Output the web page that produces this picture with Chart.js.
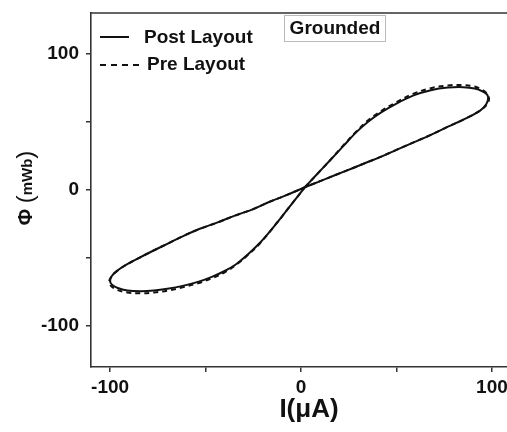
<!DOCTYPE html>
<html>
<head>
<meta charset="utf-8">
<script src="https://cdn.jsdelivr.net/npm/chart.js@4"></script>
<style>
  html, body { margin: 0; padding: 0; background: #fff; overflow: hidden; }
  #wrap { width: 520px; height: 432px; }
</style>
</head>
<body>
<div id="wrap"><canvas id="chart"></canvas></div>
<script>
// --- data: current I (uA) vs flux Phi (mWb) ---
const postI = [2, 8, 15, 22, 29, 35, 42, 50, 59, 68, 77, 85, 91, 95, 97.5, 98,
  97, 94, 87, 77, 68, 59, 50, 42, 34, 27, 18, 10, 2, -8, -17, -25, -35, -44, -53, -62, -70, -78, -85, -91, -96, -99, -100,
  -99, -96, -91, -84, -77, -70, -62, -54, -47, -40, -34, -28, -22, -16, -10, -5, 2];
const postPhi = [2, 11, 21.5, 32, 42.5, 50, 57, 63.5, 69.5, 73.3, 75.2, 75.5, 74.5, 72.5, 70, 67,
  63, 58.5, 53, 46.5, 40.5, 35, 29.5, 24.5, 20, 16, 11, 6.5, 2, -4, -9, -14, -19, -24, -28.5, -34, -39.5, -45, -50, -54.5, -59, -63, -67,
  -69.5, -72, -73.8, -74.3, -73.8, -72.5, -70.4, -67.5, -64, -59.5, -54.5, -47.5, -39.5, -30, -19.5, -10.5, 2];

const preI = [2, 8, 15, 22, 29, 35, 42, 50, 59, 68, 77, 85, 91, 95, 97.5, 98.5,
  97.5, 94, 87, 77, 68, 59, 50, 42, 34, 27, 18, 10, 2, -8, -17, -25, -35, -44, -53, -62, -70, -78, -85, -91, -96, -99, -100.5,
  -99.5, -96, -91, -84, -77, -70, -62, -54, -47, -40, -34, -28, -22, -16, -10, -5, 2];
const prePhi = [2, 11, 21.5, 32.5, 43, 51, 58, 64.5, 70.8, 74.8, 76.8, 77, 76, 73.5, 70.5, 67,
  63, 58.5, 53, 46.5, 40.5, 35, 29.5, 24.5, 20, 16, 11, 6.5, 2, -4, -9, -14, -19, -24, -28.5, -34, -39.5, -45, -50, -54.5, -59, -63, -67.5,
  -70.5, -73.5, -75.3, -75.8, -75.3, -74, -71.5, -68.5, -65, -60.5, -55, -48, -40, -30, -19.5, -10.5, 2];

const xTicks = [-100, -50, 0, 50, 100];
const yTicks = [-100, -50, 0, 50, 100];
const seriesLabels = ['Post Layout', 'Pre Layout'];
const boxText = 'Grounded';

const FONT = '"Liberation Sans", Arial, sans-serif';
const INK = '#111';

const toPoints = (xs, ys) => xs.map((x, i) => ({ x: x, y: ys[i] }));

// frame, legend, "Grounded" box and axis titles
const decorations = {
  id: 'decorations',
  afterDraw(chart) {
    const ctx = chart.ctx;
    const a = chart.chartArea;
    ctx.save();

    // top / right frame line
    ctx.strokeStyle = '#333';
    ctx.lineWidth = 1.6;
    ctx.beginPath();
    ctx.moveTo(a.left, a.top);
    ctx.lineTo(a.right, a.top);
    ctx.lineTo(a.right, a.bottom);
    ctx.stroke();

    // legend
    ctx.fillStyle = INK;
    ctx.textBaseline = 'middle';
    ctx.font = 'bold 19px ' + FONT;
    const ds = chart.data.datasets;
    ctx.lineWidth = 2;
    ctx.strokeStyle = INK;
    ctx.setLineDash([]);
    ctx.beginPath();
    ctx.moveTo(100, 37);
    ctx.lineTo(129, 37);
    ctx.stroke();
    ctx.fillText(ds[0].label, 144, 38);
    ctx.setLineDash([6, 5]);
    ctx.beginPath();
    ctx.moveTo(100, 65);
    ctx.lineTo(143, 65);
    ctx.stroke();
    ctx.setLineDash([]);
    ctx.fillText(ds[1].label, 147, 65);

    // Grounded box
    ctx.strokeStyle = '#bbb';
    ctx.lineWidth = 1;
    ctx.strokeRect(284.5, 15.5, 101, 26);
    ctx.fillStyle = INK;
    ctx.textAlign = 'center';
    ctx.fillText(boxText, 335, 29);

    // x title
    ctx.font = 'bold 26px ' + FONT;
    ctx.textBaseline = 'alphabetic';
    ctx.fillText('I(\u03bcA)', 309, 417);

    // y title with subscript unit
    ctx.translate(32, 188);
    ctx.rotate(-Math.PI / 2);
    ctx.textAlign = 'left';
    const parts = [
      { t: '\u03a6 ', f: 'bold 20px ' + FONT, dy: 0 },
      { t: '(', f: '24px ' + FONT, dy: 1 },
      { t: 'mWb', f: 'bold 15px ' + FONT, dy: 0 },
      { t: ')', f: '24px ' + FONT, dy: 1 }
    ];
    let total = 0;
    parts.forEach(p => { ctx.font = p.f; total += ctx.measureText(p.t).width; });
    let x = -total / 2;
    parts.forEach(p => {
      ctx.font = p.f;
      ctx.fillText(p.t, x, p.dy);
      x += ctx.measureText(p.t).width;
    });
    ctx.restore();
  }
};

const tickFont = { family: FONT, size: 19, weight: 'bold' };

new Chart(document.getElementById('chart'), {
  type: 'scatter',
  data: {
    datasets: [
      {
        label: seriesLabels[0],
        data: toPoints(postI, postPhi),
        showLine: true,
        borderColor: INK,
        borderWidth: 2,
        pointRadius: 0,
        tension: 0.35,
        fill: false
      },
      {
        label: seriesLabels[1],
        data: toPoints(preI, prePhi),
        showLine: true,
        borderColor: INK,
        borderWidth: 2,
        borderDash: [5, 4],
        pointRadius: 0,
        tension: 0.35,
        fill: false
      }
    ]
  },
  options: {
    responsive: true,
    maintainAspectRatio: false,
    animation: false,
    layout: { padding: { left: 0, top: 13, right: 9, bottom: 0 } },
    plugins: {
      legend: { display: false },
      tooltip: { enabled: false }
    },
    scales: {
      x: {
        type: 'linear',
        min: -110,
        max: 110,
        afterBuildTicks: s => { s.ticks = xTicks.map(v => ({ value: v })); },
        afterFit: s => { s.height = 65; s.paddingLeft = 0; s.paddingRight = 0; },
        border: { display: true, color: '#333', width: 1.6 },
        grid: { drawOnChartArea: false, drawTicks: true, tickLength: 5, color: '#333', lineWidth: 1.5 },
        ticks: {
          color: INK,
          font: tickFont,
          padding: 4,
          maxRotation: 0,
          callback: v => (v % 100 === 0 ? v : '')
        }
      },
      y: {
        type: 'linear',
        min: -130,
        max: 130,
        afterBuildTicks: s => { s.ticks = yTicks.map(v => ({ value: v })); },
        afterFit: s => { s.width = 91; s.paddingTop = 0; s.paddingBottom = 0; },
        border: { display: true, color: '#333', width: 1.6 },
        grid: { drawOnChartArea: false, drawTicks: true, tickLength: 5, color: '#333', lineWidth: 1.5 },
        ticks: {
          color: INK,
          font: tickFont,
          padding: 7,
          callback: v => (v % 100 === 0 ? v : '')
        }
      }
    }
  },
  plugins: [decorations]
});
</script>
</body>
</html>
